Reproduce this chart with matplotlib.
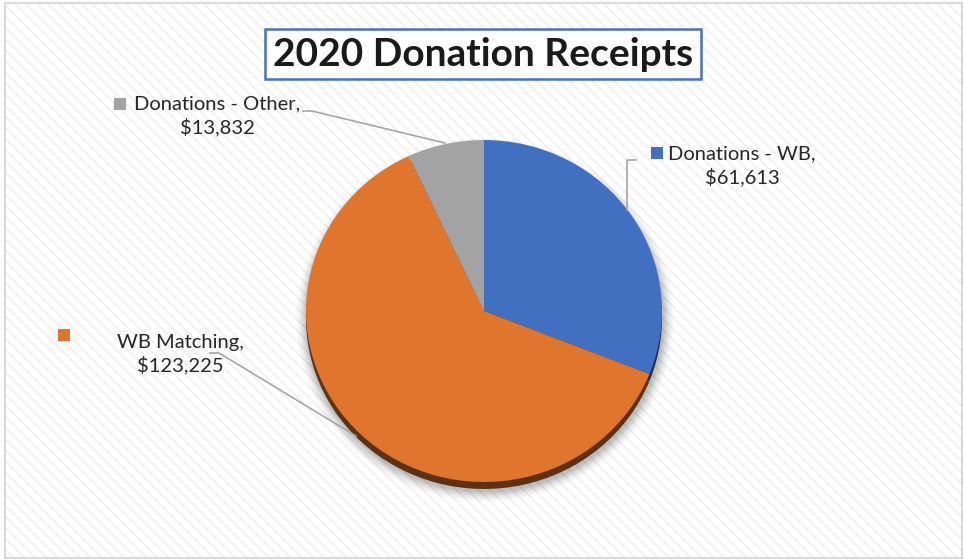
import matplotlib
matplotlib.use("Agg")
import matplotlib.pyplot as plt
from matplotlib.patches import Rectangle, Ellipse
import matplotlib.colors as mcolors
import numpy as np

categories = ["Donations - WB", "WB Matching", "Donations - Other"]
values = [61613, 123225, 13832]
value_labels = ["$61,613", "$123,225", "$13,832"]
colors = ["#4270C0", "#E0752E", "#A3A3A3"]
title = "2020 Donation Receipts"

W, H = 964, 560
fig = plt.figure(figsize=(W / 100, H / 100), dpi=100)
ax = fig.add_axes([0, 0, 1, 1])
ax.set_xlim(0, W)
ax.set_ylim(0, H)
ax.axis("off")

def Y(y):
    return H - y

plt.rcParams["hatch.linewidth"] = 1.2
bg = Rectangle((5, Y(558)), 957, 555, facecolor="white", edgecolor="#f0f0f0",
               hatch="\\\\\\", linewidth=0, zorder=0)
ax.add_patch(bg)
ax.add_patch(Rectangle((5, Y(558)), 957, 555, facecolor="none", edgecolor="#d9d9d9",
                       linewidth=1.5, zorder=0.5))

cx, cy, rx, ry = 484, 311, 178, 171
k = rx / ry

# soft shadow
for i, a in enumerate(np.linspace(0.05, 0.01, 9)):
    ax.add_patch(Ellipse((cx + 1, Y(cy + 9)), 2 * (rx + 1 + i * 1.3), 2 * (ry + 1 + i * 1.3),
                         facecolor="#000000", alpha=a, linewidth=0, zorder=1))

# pie axes: x in px, y scaled so a circle becomes the flattened ellipse
ax2 = fig.add_axes([0, 0, 1, 1])
ax2.patch.set_alpha(0)
dark = [tuple(np.array(mcolors.to_rgb(c)) * 0.42) for c in colors]
ax2.pie(values, colors=dark, startangle=90, counterclock=False,
        center=(cx, Y(cy + 7) * k), radius=rx, frame=True,
        wedgeprops=dict(linewidth=0))
wedges, _ = ax2.pie(values, colors=colors, startangle=90, counterclock=False,
                    center=(cx, Y(cy) * k), radius=rx, frame=True,
                    wedgeprops=dict(linewidth=0))
ax2.set_aspect("auto")
ax2.set_xlim(0, W)
ax2.set_ylim(0, H * k)
ax2.axis("off")

# overlay axes for labels and title
ax3 = fig.add_axes([0, 0, 1, 1])
ax3.patch.set_alpha(0)
ax3.set_xlim(0, W)
ax3.set_ylim(0, H)
ax3.axis("off")

font = "Lato"
lc = "#A6A6A6"

lab_pos = [(742, 166), (180, 354), (217, 116)]
sq_pos = [(657, 153), (64, 335), (120, 104)]
for (tx, ty), (sx, sy), cat, vl, col in zip(lab_pos, sq_pos, categories, value_labels, colors):
    ax3.text(tx, Y(ty), f"{cat},\n{vl}", ha="center", va="center", fontsize=14.5,
             family=font, color="#262626", linespacing=1.3, zorder=5)
    ax3.add_patch(Rectangle((sx - 6, Y(sy + 6)), 12, 12, facecolor=col,
                            edgecolor="none", zorder=5))

# leader lines
ax3.plot([636, 627, 627], [Y(160), Y(160), Y(210)], color=lc, lw=1.2, zorder=4)
ax3.plot([210, 219, 356], [Y(353), Y(353), Y(436)], color=lc, lw=1.2, zorder=4)
ax3.plot([303, 312, 445], [Y(111), Y(111), Y(143)], color=lc, lw=1.2, zorder=4)

# title
ax3.text(483, Y(54), title, ha="center", va="center", fontsize=28, fontweight="bold",
         family=font, color="#1a1a1a", zorder=6,
         bbox=dict(boxstyle="square,pad=0.2", facecolor="white", edgecolor="#4472C4",
                   linewidth=1.8))

fig.savefig("out.png", dpi=100)
